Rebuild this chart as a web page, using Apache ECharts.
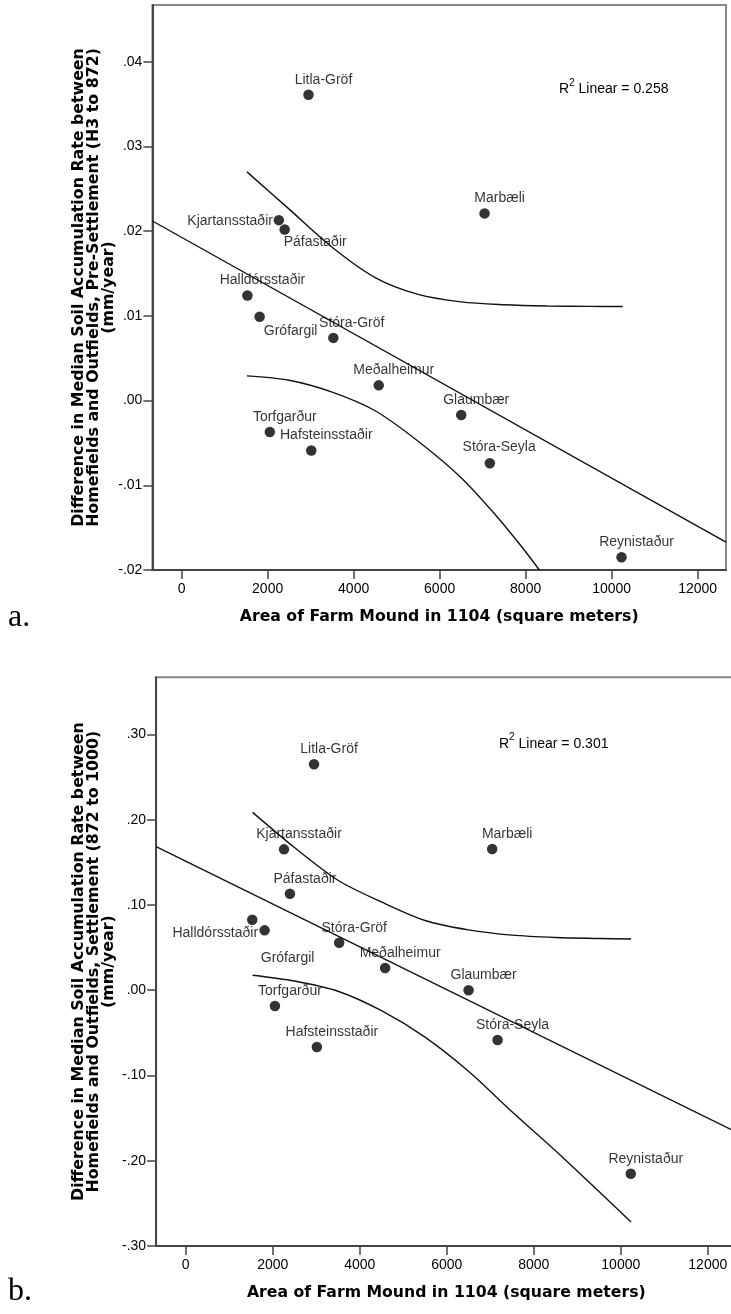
<!DOCTYPE html>
<html><head><meta charset="utf-8">
<script src="https://cdn.jsdelivr.net/npm/echarts@6/dist/echarts.min.js"></script>
<style>html,body{margin:0;padding:0;background:#fff}#c{width:731px;height:1314px}</style>
</head><body><div id="c"></div>
<script>
// ---------- data ----------
const farmNames = ['Litla-Gröf','Marbæli','Kjartansstaðir','Páfastaðir','Halldórsstaðir','Grófargil','Stóra-Gröf','Meðalheimur','Glaumbær','Torfgarður','Hafsteinsstaðir','Stóra-Seyla','Reynistaður'];
const moundArea = [2950, 7045, 2260, 2396, 1530, 1814, 3528, 4584, 6502, 2051, 3015, 7168, 10230];
const ratePreSettlement = [0.0361, 0.0221, 0.0213, 0.0202, 0.0124, 0.0099, 0.0074, 0.0018, -0.0017, -0.0037, -0.0059, -0.0074, -0.0185];
const rateSettlement = [0.2650, 0.1656, 0.1652, 0.1132, 0.0827, 0.0702, 0.0557, 0.0260, 0.0000, -0.0185, -0.0666, -0.0584, -0.2152];

const fitLineA = [[-680, 0.0212], [12660, -0.0167]];
const ciUpperA = [[1519, 0.0270], [2500, 0.0226], [3500, 0.0181], [4500, 0.01452], [5500, 0.01253], [6500, 0.01165], [7500, 0.01132], [8500, 0.01117], [9500, 0.01112], [10256, 0.0111]];
const ciLowerA = [[1519, 0.00292], [2500, 0.0024], [3500, 0.0010], [4500, -0.0012], [5500, -0.0048], [6500, -0.0091], [7300, -0.0135], [7900, -0.0172], [8320, -0.0200]];

const fitLineB = [[-680, 0.1685], [12660, -0.1666]];
const ciUpperB = [[1538, 0.2086], [2500, 0.1674], [3500, 0.1290], [4500, 0.1035], [5500, 0.0818], [6500, 0.0708], [7500, 0.0646], [8500, 0.0619], [9500, 0.0607], [10237, 0.0600]];
const ciLowerB = [[1538, 0.0176], [2500, 0.0108], [3500, -0.0012], [4500, -0.0240], [5500, -0.0550], [6500, -0.0950], [7500, -0.1425], [8500, -0.1883], [9500, -0.2362], [10237, -0.2718]];

const xTickValues = [0, 2000, 4000, 6000, 8000, 10000, 12000];
const yTickValuesA = [-0.02, -0.01, 0, 0.01, 0.02, 0.03, 0.04];
const yTickValuesB = [-0.30, -0.20, -0.10, 0, 0.10, 0.20, 0.30];
const xRange = [-680, 12660];
const yRangeA = [-0.02, 0.0467];
const yRangeB = [-0.30, 0.367];

const xTitle = 'Area of Farm Mound in 1104 (square meters)';
const yTitleA = 'Difference in Median Soil Accumulation Rate between\nHomefields and Outfields, Pre-Settlement (H3 to 872)\n(mm/year)';
const yTitleB = 'Difference in Median Soil Accumulation Rate between\nHomefields and Outfields, Settlement (872 to 1000)\n(mm/year)';
const r2TextA = 'Linear = 0.258';
const r2TextB = 'Linear = 0.301';
const panelA = 'a.';
const panelB = 'b.';

// ---------- styling ----------
const SANS = 'Liberation Sans, Arial, sans-serif';
const BOLD = 'DejaVu Sans, Verdana, sans-serif';
const defaultOffset = [15, -15];
const labelOffsetA = {'Kjartansstaðir': [-48.7, 0.7], 'Páfastaðir': [30.5, 12.6], 'Grófargil': [31, 14], 'Stóra-Gröf': [18.4, -15], 'Stóra-Seyla': [9.3, -15.7]};
const labelOffsetB = {'Halldórsstaðir': [-37, 13.6], 'Grófargil': [23, 27.7]};

const fmtY = v => (v < 0 ? '-' : '') + Math.abs(v).toFixed(2).replace(/^0/, '');

function pts(values, offsets) {
  return farmNames.map((n, i) => ({
    name: n,
    value: [moundArea[i], values[i]],
    label: {offset: offsets[n] || defaultOffset}
  }));
}

function xAxisCfg(gridIndex) {
  return {
    type: 'value', gridIndex, min: xRange[0], max: xRange[1],
    name: xTitle, nameLocation: 'middle', nameGap: 39, nameMoveOverlap: false,
    nameTextStyle: {fontFamily: BOLD, fontWeight: 'bold', fontSize: 15.7, color: '#000'},
    axisLine: {show: true, onZero: false, lineStyle: {color: '#444', width: 2}},
    axisTick: {show: true, length: 9, customValues: xTickValues, lineStyle: {color: '#444', width: 1.5}},
    axisLabel: {customValues: xTickValues, margin: 12, fontFamily: SANS, fontSize: 14, color: '#000', formatter: v => String(v)},
    splitLine: {show: false}
  };
}
function yAxisCfg(gridIndex, range, ticks, title, gap) {
  return {
    type: 'value', gridIndex, min: range[0], max: range[1],
    name: title, nameLocation: 'middle', nameGap: gap, nameRotate: 90, nameMoveOverlap: false,
    nameTextStyle: {fontFamily: BOLD, fontWeight: 'bold', fontSize: 15.8, lineHeight: 15, color: '#000', align: 'center'},
    axisLine: {show: true, onZero: false, lineStyle: {color: '#444', width: 2}},
    axisTick: {show: true, length: 9, customValues: ticks, lineStyle: {color: '#444', width: 1.5}},
    axisLabel: {customValues: ticks, margin: 10, fontFamily: SANS, fontSize: 14, color: '#000', formatter: fmtY},
    splitLine: {show: false}
  };
}
const lineStyle = {color: '#111', width: 1.4};
function lineSeries(data, idx, smooth) {
  return {type: 'line', xAxisIndex: idx, yAxisIndex: idx, data, showSymbol: false, symbol: 'none',
    smooth: smooth ? 0.3 : false, lineStyle, silent: true, z: 3, clip: true};
}
function scatterSeries(values, offsets, idx) {
  return {type: 'scatter', xAxisIndex: idx, yAxisIndex: idx, data: pts(values, offsets),
    symbolSize: 10.5, itemStyle: {color: '#000'}, z: 5, silent: true,
    label: {show: true, position: 'inside', formatter: '{b}', color: '#000', fontFamily: SANS, fontSize: 14}};
}
function r2Graphic(x, y, txt) {
  return {type: 'text', x, y, z: 10, style: {
    text: '{n|R}{s|2}{n| ' + txt + '}',
    verticalAlign: 'middle',
    rich: {n: {fontFamily: SANS, fontSize: 14, color: '#000', lineHeight: 18, verticalAlign: 'bottom'},
           s: {fontFamily: SANS, fontSize: 10, color: '#000', lineHeight: 18, verticalAlign: 'top'}}
  }};
}

const chart = echarts.init(document.getElementById('c'), null, {renderer: 'canvas'});
chart.setOption({
  backgroundColor: '#fff',
  animation: false,
  grid: [
    {left: 152.4, top: 5, width: 573.6, height: 565, show: true, borderColor: '#888', borderWidth: 2, outerBoundsMode: 'none'},
    {left: 156.1, top: 677.3, width: 580.4, height: 568.7, show: true, borderColor: '#888', borderWidth: 2, outerBoundsMode: 'none'}
  ],
  xAxis: [xAxisCfg(0), xAxisCfg(1)],
  yAxis: [yAxisCfg(0, yRangeA, yTickValuesA, yTitleA, 36), yAxisCfg(1, yRangeB, yTickValuesB, yTitleB, 40)],
  series: [
    lineSeries(fitLineA, 0, false), lineSeries(ciUpperA, 0, true), lineSeries(ciLowerA, 0, true),
    scatterSeries(ratePreSettlement, labelOffsetA, 0),
    lineSeries(fitLineB, 1, false), lineSeries(ciUpperB, 1, true), lineSeries(ciLowerB, 1, true),
    scatterSeries(rateSettlement, labelOffsetB, 1)
  ],
  graphic: [
    r2Graphic(559, 87.3, r2TextA),
    r2Graphic(499, 741.7, r2TextB),
    {type: 'text', x: 8, y: 634, style: {text: panelA, fontFamily: 'Liberation Serif, Times New Roman, serif', fontSize: 32, fill: '#000', verticalAlign: 'bottom'}},
    {type: 'text', x: 8, y: 1308, style: {text: panelB, fontFamily: 'Liberation Serif, Times New Roman, serif', fontSize: 32, fill: '#000', verticalAlign: 'bottom'}}
  ]
});
</script></body></html>
